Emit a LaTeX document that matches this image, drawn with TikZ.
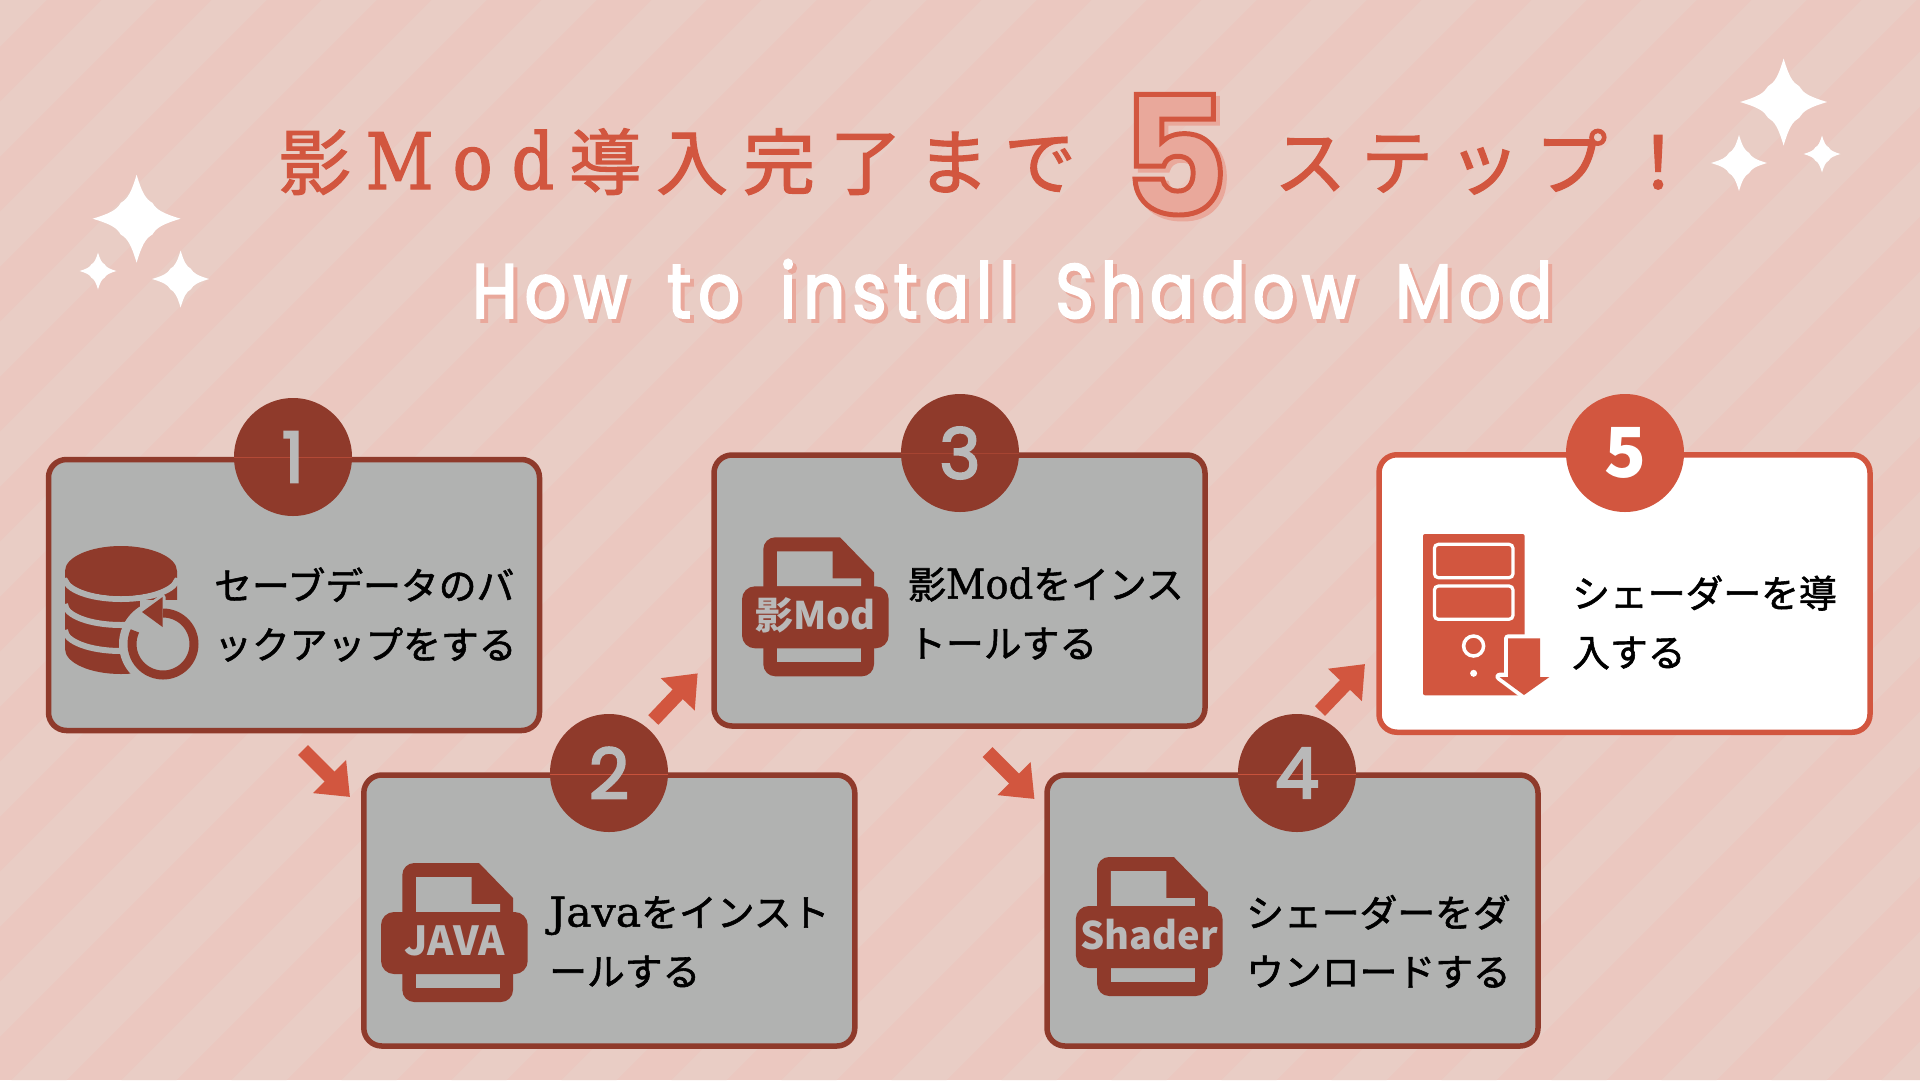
\documentclass[tikz,border=0pt]{standalone}
\usepackage{fontspec}
\usetikzlibrary{arrows.meta}
\newfontfamily\cjkF{Noto Sans CJK JP}[FakeBold=1.5]
\newfontfamily\cjkH{Noto Sans CJK JP}
\newfontfamily\titleF{Noto Sans CJK JP}[LetterSpace=20.8,FakeBold=1.6]
\newfontfamily\titleL{DejaVu Serif}[LetterSpace=24.5,FakeStretch=0.85,FakeBold=1.6]
\newfontfamily\latA{DejaVu Serif}[FakeStretch=0.94,FakeBold=1]
\newfontfamily\latB{DejaVu Serif}[FakeStretch=1.04,FakeBold=1]
\newfontfamily\subF{Poppins}[LetterSpace=9.3,WordSpace=1.62,FakeStretch=0.85,FakeBold=2.5]
\newfontfamily\fiveF{Poppins}[BoldFeatures={FakeBold=3}]
\newfontfamily\numF{Poppins}[FakeBold=3]
\definecolor{bgdark}{HTML}{EBC8C0}
\definecolor{bglight}{HTML}{E9CDC5}
\definecolor{dk}{HTML}{8F3A2B}
\definecolor{cr}{HTML}{D2563F}
\definecolor{gy}{HTML}{B1B2B1}
\definecolor{gd}{HTML}{B9B9B9}
\definecolor{pk}{HTML}{E9A89B}
\tikzset{
  boxbase/.style={rectangle,rounded corners=18pt,line width=5.5pt,minimum width=491pt,inner sep=0pt},
  greybox/.style={boxbase,draw=dk,fill=gy,minimum height=271pt},
  whitebox/.style={boxbase,draw=cr,fill=white,minimum height=277.5pt},
  numdisc/.style={circle,fill=dk,minimum size=118pt,inner sep=0pt},
  numtext/.style={inner sep=0pt,text=gd,font=\numF\fontsize{70}{70}\selectfont},
  seamline/.style={line width=1pt},
  bodytext/.style={anchor=west,align=left,inner sep=0pt,text=black,font=\cjkF\fontsize{37.8}{59}\selectfont},
  stepline/.style={draw=cr,line width=14pt,-{Triangle[length=29pt,width=45pt]}},
  filelabel/.style={text=gd,inner sep=0pt,font=\cjkH\bfseries\fontsize{38}{38}\selectfont},
}
\newcommand\sparkle[3]{%
  \fill[white,shift={(#1,#2)},scale=#3] (0,-1) .. controls (0.12,-0.6) and (0.2,-0.45) .. (0.36,-0.36)
    .. controls (0.45,-0.2) and (0.6,-0.12) .. (1,0)
    .. controls (0.6,0.12) and (0.45,0.2) .. (0.36,0.36)
    .. controls (0.2,0.45) and (0.12,0.6) .. (0,1)
    .. controls (-0.12,0.6) and (-0.2,0.45) .. (-0.36,0.36)
    .. controls (-0.45,0.2) and (-0.6,0.12) .. (-1,0)
    .. controls (-0.6,-0.12) and (-0.45,-0.2) .. (-0.36,-0.36)
    .. controls (-0.2,-0.45) and (-0.12,-0.6) .. (0,-1) -- cycle;}
\newcommand\fileicon[4]{%
  \begin{scope}[shift={(#1,#2)}]
    \fill[dk] (98,0) -- (132,35) [rounded corners=12pt] -- (132,139) -- (21.3,139) -- (21.3,0) [sharp corners] -- (98,0) -- cycle;
    \fill[gy] (35,14) -- (90.5,14) -- (90.5,41) -- (119,41) -- (119,49) -- (35,49) -- cycle;
    \fill[gy] (35,111) rectangle (119,125);
    \fill[dk,rounded corners=13pt] (0,49) rectangle (146.7,111);
    \node[filelabel] (#3) at (73.3,78) {#4};
  \end{scope}}
\begin{document}
\begin{tikzpicture}[x=1pt,y=-1pt]
\useasboundingbox (0,0) rectangle (1920,1080);
% background stripes
\fill[bgdark] (0,0) rectangle (1920,1080);
\begin{scope}
  \clip (0,0) rectangle (1920,1080);
  \foreach \k in {0,...,27} {
    \pgfmathsetmacro\ca{-8.3+110*\k}
    \pgfmathsetmacro\cb{\ca+55}
    \fill[bglight] (\ca,0) -- (\cb,0) -- ({\cb-1080},1080) -- ({\ca-1080},1080) -- cycle;
  }
\end{scope}
% sparkles
\sparkle{136.6}{218.7}{44}
\sparkle{98}{271}{18.5}
\sparkle{180.6}{279}{28.5}
\sparkle{1783.6}{102}{43.5}
\sparkle{1739}{163}{28}
\sparkle{1822}{154}{18.5}
% title
\node[anchor=base west,inner sep=0pt,text=cr,font=\fontsize{72}{72}\selectfont] (title1) at (278.5,189)
  {{\titleF 影}\kern15pt{\titleL\fontsize{78}{78}\selectfont Mod}\kern15pt{\titleF 導入完了まで}};
\node[anchor=base west,inner sep=0pt,text=cr,font=\titleF\fontsize{72}{72}\selectfont] (title2) at (1274,189) {ステップ！};
\node[anchor=base west,inner sep=0pt,text=pk,font=\fiveF\bfseries\fontsize{165}{165}\selectfont] (fiveshadow) at (1125,219) {5};
\node[anchor=base west,inner sep=0pt,text=cr,font=\fiveF\bfseries\fontsize{165}{165}\selectfont] (five) at (1121,215) {\pgfsetfillopacity{0}\pgfsetstrokeopacity{1}5};
% subtitle
\node[anchor=base west,inner sep=0pt,text=pk,font=\subF\fontsize{77}{77}\selectfont] (subshadow) at (476,322) {How to install Shadow Mod};
\node[anchor=base west,inner sep=0pt,text=white,font=\subF\fontsize{77}{77}\selectfont] (subtitle) at (472,318) {How to install Shadow Mod};
% connectors
\coordinate (a1s) at (303,750); \coordinate (a1e) at (350,797);
\coordinate (a2s) at (653.3,720); \coordinate (a2e) at (697.7,673.3);
\coordinate (a3s) at (987.5,752); \coordinate (a3e) at (1034.5,799);
\coordinate (a4s) at (1320,711); \coordinate (a4e) at (1365,664);
\draw[stepline] (a1s) -- (a1e);
\draw[stepline] (a2s) -- (a2e);
\draw[stepline] (a3s) -- (a3e);
\draw[stepline] (a4s) -- (a4e);
% boxes
\node[greybox] (box1) at (294,595) {};
\node[greybox] (box2) at (609.3,910.5) {};
\node[greybox] (box3) at (959.5,590.5) {};
\node[greybox] (box4) at (1292.5,910.5) {};
\node[whitebox] (box5) at (1624.5,593.5) {};
% discs
\node[numdisc] (n1) at (293,457) {};
\node[numdisc] (n2) at (609,773) {};
\node[numdisc] (n3) at (960,453) {};
\node[numdisc] (n4) at (1297,773) {};
\node[numdisc,fill=cr] (n5) at (1625,453) {};
\draw[seamline,draw=cr!55!dk] (n1.west) -- (n1.east);
\draw[seamline,draw=cr!85!dk] ([yshift=-1pt]n2.west) -- ([yshift=-1pt]n2.east);
\draw[seamline,draw=cr!35!dk] (n3.west) -- (n3.east);
\draw[seamline,draw=cr!85!dk] ([yshift=-1pt]n4.west) -- ([yshift=-1pt]n4.east);
\node[numtext] (d1) at (n1) {1};
\node[numtext] (d2) at (n2) {2};
\node[numtext] (d3) at (n3) {3};
\node[numtext] (d4) at (n4) {4};
\node[numtext,text=white,font=\cjkH\bfseries\fontsize{69}{69}\selectfont] (d5) at (n5) {5};
% icon 1: database with circular arrow
\fill[dk] (65,571) -- (65,649) arc[start angle=180,end angle=0,x radius=56,y radius=25] -- (177,571) -- cycle;
\draw[gy,line width=6pt] (65,578) arc[start angle=180,end angle=0,x radius=56,y radius=21];
\draw[gy,line width=6pt] (65,604) arc[start angle=180,end angle=0,x radius=56,y radius=21];
\draw[gy,line width=6pt] (65,630) arc[start angle=180,end angle=0,x radius=56,y radius=21];
\fill[dk] (121,571) ellipse[x radius=56,y radius=25];
\fill[gy] (163,644) circle[radius=44];
\fill[gy] (140,600) rectangle (180,660);
\draw[gy,line width=6pt,line join=round,fill=gy] (142,612) -- (162.6,597) -- (162.6,627) -- cycle;
\draw[dk,line width=9pt] (163,613) arc[start angle=-90,end angle=205,radius=31];
\fill[dk] (142,612) -- (162.6,597) -- (162.6,627) -- cycle;
% file icons
\fileicon{381}{863}{iconjava}{\fontsize{40}{40}\selectfont JAVA}
\fileicon{742}{537.3}{iconmod}{影Mod}
\fileicon{1075.8}{857}{iconshader}{Shader}
% icon 5: tower with download arrow
\fill[cr,rounded corners=2pt] (1423,534) rectangle (1524.6,695.3);
\draw[white,line width=3.2pt,rounded corners=4pt] (1434.4,544.3) rectangle (1513,577.7);
\draw[white,line width=3.2pt,rounded corners=4pt] (1434.4,586) rectangle (1513,619.3);
\draw[white,line width=3.5pt] (1473.6,646) circle[radius=10];
\fill[white] (1473.6,673.3) circle[radius=3.5];
\draw[white,line width=8pt,line join=round,fill=white] (1508,638.3) -- (1508,676.7) -- (1499.5,676.7) -- (1524,695) -- (1540,676.7) -- (1540,638.3) -- cycle;
\fill[cr] (1508,638.3) -- (1540,638.3) -- (1540,677) -- (1549.4,677) -- (1524,695) -- (1499.5,677) -- (1508,677) -- cycle;
% body text
\node[bodytext] (t1) at (214,614.5) {セーブデータのバ\\ックアップをする};
\node[bodytext] (t2) at (549,942) {{\latB\fontsize{41}{59}\selectfont Java}をインスト\\ールする};
\node[bodytext] (t3) at (908,613.5) {影{\latA\fontsize{41}{59}\selectfont Mod}をインス\\トールする};
\node[bodytext] (t4) at (1246,941.5) {シェーダーをダ\\ウンロードする};
\node[bodytext] (t5) at (1572,622.5) {シェーダーを導\\入する};
\end{tikzpicture}
\end{document}
